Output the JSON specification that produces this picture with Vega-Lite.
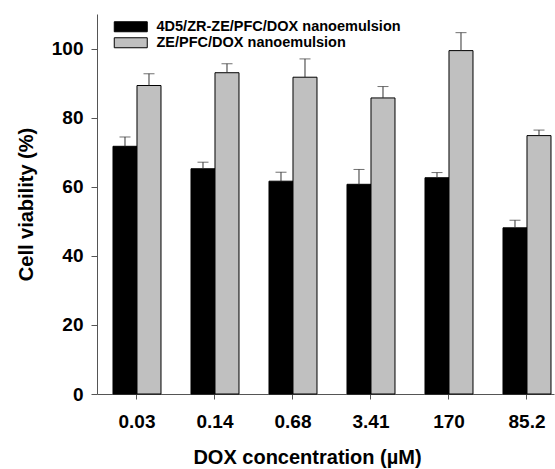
{
  "$schema": "https://vega.github.io/schema/vega-lite/v6.json",
  "autosize": {"type": "none"},
  "padding": {"left": 97, "top": 14, "right": 1, "bottom": 75},
  "width": 457,
  "height": 380,
  "background": "white",
  "config": {
    "view": {"stroke": null},
    "font": "Liberation Sans",
    "axis": {"labelFont": "Liberation Sans", "titleFont": "Liberation Sans", "labelFontWeight": "bold", "titleFontWeight": "bold", "labelColor": "black", "titleColor": "black", "domainColor": "#555", "tickColor": "#555", "grid": false},
    "legend": {"labelFont": "Liberation Sans"}
  },
  "data": {
    "values": [
      {"conc": "0.03", "group": "4D5/ZR-ZE/PFC/DOX nanoemulsion", "value": 71.7, "upper": 74.4},
      {"conc": "0.03", "group": "ZE/PFC/DOX nanoemulsion", "value": 89.3, "upper": 92.7},
      {"conc": "0.14", "group": "4D5/ZR-ZE/PFC/DOX nanoemulsion", "value": 65.2, "upper": 67.1},
      {"conc": "0.14", "group": "ZE/PFC/DOX nanoemulsion", "value": 93.0, "upper": 95.6},
      {"conc": "0.68", "group": "4D5/ZR-ZE/PFC/DOX nanoemulsion", "value": 61.6, "upper": 64.2},
      {"conc": "0.68", "group": "ZE/PFC/DOX nanoemulsion", "value": 91.7, "upper": 97.0},
      {"conc": "3.41", "group": "4D5/ZR-ZE/PFC/DOX nanoemulsion", "value": 60.7, "upper": 65.0},
      {"conc": "3.41", "group": "ZE/PFC/DOX nanoemulsion", "value": 85.7, "upper": 89.0},
      {"conc": "170", "group": "4D5/ZR-ZE/PFC/DOX nanoemulsion", "value": 62.6, "upper": 64.1},
      {"conc": "170", "group": "ZE/PFC/DOX nanoemulsion", "value": 99.4, "upper": 104.6},
      {"conc": "85.2", "group": "4D5/ZR-ZE/PFC/DOX nanoemulsion", "value": 48.1, "upper": 50.3},
      {"conc": "85.2", "group": "ZE/PFC/DOX nanoemulsion", "value": 74.8, "upper": 76.4}
    ]
  },
  "encoding": {
    "x": {
      "field": "conc", "type": "nominal", "sort": null,
      "scale": {"paddingInner": 0.3846, "paddingOuter": 0.1218, "align": 0.842},
      "axis": {"title": "DOX concentration (µM)", "labelAngle": 0, "labelFontSize": 19, "titleFontSize": 20, "tickSize": 5, "labelPadding": 13, "titleX": 210, "titleY": 69, "titleAnchor": null, "titleAlign": "center", "titleBaseline": "alphabetic"}
    },
    "xOffset": {"field": "group", "type": "nominal", "sort": ["4D5/ZR-ZE/PFC/DOX nanoemulsion", "ZE/PFC/DOX nanoemulsion"], "scale": {"paddingInner": 0, "paddingOuter": 0}}
  },
  "layer": [
    {
      "mark": {"type": "bar", "stroke": "black", "strokeWidth": 1, "opacity": 1},
      "encoding": {
        "y": {
          "field": "value", "type": "quantitative",
          "scale": {"domain": [0, 110], "nice": false},
          "axis": {"title": "Cell viability (%)", "values": [0, 20, 40, 60, 80, 100], "labelFontSize": 19, "titleFontSize": 20, "tickSize": 6, "labelPadding": 8, "titleX": -65, "titleY": 190, "titleAngle": -90, "titleAlign": "center", "titleBaseline": "alphabetic", "titleAnchor": null}
        },
        "color": {
          "field": "group", "type": "nominal",
          "sort": ["4D5/ZR-ZE/PFC/DOX nanoemulsion", "ZE/PFC/DOX nanoemulsion"],
          "scale": {"range": ["black", "#c0c0c0"]},
          "legend": {
            "title": null, "orient": "none", "legendX": 26.5, "legendY": 5.5,
            "padding": 0,
            "symbolType": "M-3.3,-1H3.3V1H-3.3Z", "symbolSize": 100,
            "symbolStrokeColor": "black", "symbolStrokeWidth": 1, "symbolOpacity": 1,
            "labelFontSize": 14.5, "labelFontWeight": "bold", "labelColor": "black",
            "labelOffset": 18.5, "rowPadding": 0, "labelLimit": 400
          }
        }
      }
    },
    {
      "mark": {"type": "rule", "color": "#333", "strokeWidth": 1},
      "encoding": {
        "y": {"field": "value", "type": "quantitative"},
        "y2": {"field": "upper"}
      }
    },
    {
      "mark": {"type": "tick", "orient": "horizontal", "color": "#333", "size": 11, "thickness": 1},
      "encoding": {
        "y": {"field": "upper", "type": "quantitative"}
      }
    }
  ]
}
